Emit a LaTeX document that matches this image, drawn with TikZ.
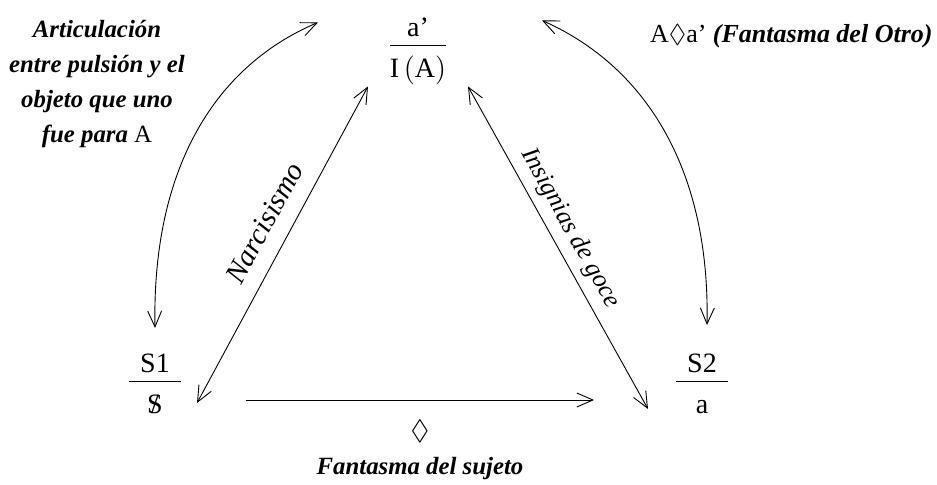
\documentclass[tikz,border=0pt]{standalone}
\usepackage{amsmath,amssymb}
\usepackage{fontspec}
\setmainfont{Liberation Serif}
\usetikzlibrary{arrows.meta,positioning,calc}

\newcommand{\tachS}{\ooalign{S\cr\hidewidth/\hidewidth\cr}}
\newcommand{\bruch}[2]{$\dfrac{\raisebox{-1.5pt}{#1}}{\raisebox{-2.5pt}{#2}}$}

\begin{document}
\begin{tikzpicture}[x=0.5pt,y=-0.5pt,
    >={Straight Barb[length=8pt,width=7pt]},
    every path/.style={line width=0.45pt},
    frac/.style={font=\fontsize{14}{17}\selectfont, inner sep=0pt, anchor=base},
    lbl/.style={font=\fontsize{12.4}{17.5}\selectfont\bfseries\itshape, inner sep=0pt},
    edgelbl/.style={font=\fontsize{14}{17}\selectfont\itshape, inner sep=0pt}]
  \useasboundingbox (0,0) rectangle (937,485);

  % the three places
  \node[frac] (top) at (418,53) {\bruch{a’}{I\,$(\text{A})$}};
  \node[frac] (S1) at (155,389) {\bruch{\makebox[26pt]{S1}}{\makebox[26pt]{\tachS}}};
  \node[frac] (S2) at (702,389) {\bruch{\makebox[26pt]{S2}}{\makebox[26pt]{a}}};

  % sides of the triangle
  \draw[<->] ($(S1)+(42,19)$) -- node[edgelbl, font=\fontsize{14.6}{17}\selectfont\itshape, pos=0.53, sloped, above=8pt] (narc) {Narcisismo} ($(top)+(-50,35)$);
  \draw[<->] ($(top)+(50,35)$) -- node[edgelbl, font=\fontsize{12.8}{17}\selectfont\itshape, pos=0.47, sloped, above=4pt] (insig) {Insignias de goce} ($(S2)+(-54,25)$);
  \draw[->] ($(S1)+(91,16)$) -- node[below=10pt, inner sep=0pt, font=\fontsize{14}{17}\selectfont] (rombo) {$\Diamond$} ($(S2)+(-108,16)$);
  \node[lbl, below=6.5pt of rombo] (fsuj) {Fantasma del sujeto};

  % outer arcs
  \draw[<->] ($(S1)+(0,-56)$) .. controls +(-3,-153) and +(-108,46) .. ($(top)+(-100,-29)$);
  \draw[<->] ($(top)+(124,-31)$) .. controls +(108,48) and +(3,-150) .. ($(S2)+(5,-59)$);

  % side texts
  \node[lbl, align=center] (artic) at (97,84) {Articulación\\ entre pulsión y el\\ objeto que uno\\ fue para \textmd{\textup{A}}};
  \node[anchor=base east, inner sep=0pt, font=\fontsize{13}{17}\selectfont] (fotro) at (933,43) {A$\Diamond$a’ {\bfseries\itshape(Fantasma del Otro)}};
\end{tikzpicture}
\end{document}
